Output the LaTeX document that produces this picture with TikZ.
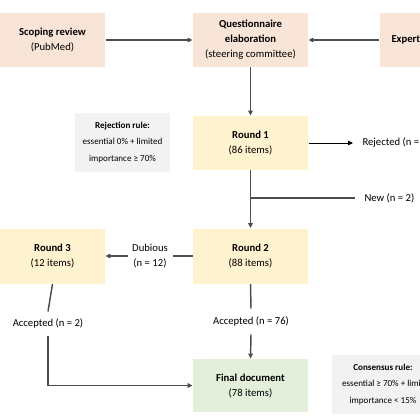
\documentclass[tikz,border=0pt]{standalone}
\usepackage{fontspec}
\setmainfont{Carlito}
\usetikzlibrary{arrows.meta}

\tikzset{every picture/.style={line width=0.75pt}}
\tikzset{
  stepbase/.style={rectangle, inner sep=0.75pt, align=center, font=\fontsize{8}{11.25}\selectfont, minimum width=86.25pt, minimum height=40.5pt},
  peachbox/.style={stepbase, fill={rgb, 255:red, 249; green, 229; blue, 216 }},
  roundbox/.style={stepbase, fill={rgb, 255:red, 255; green, 242; blue, 206 }},
  finalbox/.style={stepbase, fill={rgb, 255:red, 227; green, 239; blue, 219 }},
  rulebox/.style={rectangle, inner sep=0.75pt, align=center, font=\fontsize{6.8}{12.4}\selectfont, fill={rgb, 255:red, 242; green, 242; blue, 242 }, minimum width=71.25pt, minimum height=44.25pt},
  lbl/.style={inner sep=0pt, align=center, font=\fontsize{8}{11.25}\selectfont},
  flow/.style={draw={rgb, 255:red, 77; green, 77; blue, 77 }, line width=1.1pt},
  tip/.style={-{Triangle[length=3.6pt,width=3.4pt]}}
}

\begin{document}
\begin{tikzpicture}[x=0.75pt,y=0.75pt,yscale=-1,xscale=1]
\useasboundingbox (0,0) rectangle (420,420);
\clip (0,0) rectangle (420,420);

%Shape: Rectangle [id:scoping] 
\node [peachbox, minimum width=78.75pt] (scoping) at (52.5,40) {\textbf{Scoping review}\\(PubMed)};
%Shape: Rectangle [id:quest] 
\node [peachbox] (quest) at (250.5,40) {\textbf{Questionnaire}\\\textbf{elaboration}\\(steering committee)};
%Shape: Rectangle [id:expert] 
\node [peachbox, anchor=west, text width=70pt, align=left, inner xsep=9pt] (expert) at (379,40) {\textbf{Expert}};
%Shape: Rectangle [id:round1] 
\node [roundbox] (round1) at (250.5,143) {\textbf{Round 1}\\(86 items)};
%Shape: Rectangle [id:round2] 
\node [roundbox, minimum height=41.25pt] (round2) at (250.5,256) {\textbf{Round 2}\\(88 items)};
%Shape: Rectangle [id:round3] 
\node [roundbox, minimum width=78.75pt, minimum height=41.25pt] (round3) at (52.5,256) {\textbf{Round 3}\\(12 items)};
%Shape: Rectangle [id:final] 
\node [finalbox, minimum height=39.75pt] (final) at (250.5,385.5) {\textbf{Final document}\\(78 items)};
%Shape: Rectangle [id:rejection] 
\node [rulebox] (rejection) at (122.5,142.5) {\textbf{Rejection rule:}\\essential 0\% + limited\\importance ≥ 70\%};
%Shape: Rectangle [id:consensus] 
\node [rulebox, minimum width=76.5pt] (consensus) at (383,384.5) {\textbf{Consensus rule:}\\essential ≥ 70\% + limit\\importance < 15\%};

% Text Node
\node [lbl, anchor=west, inner xsep=6.75pt] (rej) at (353,143) {Rejected (n =};
% Text Node
\node [lbl, anchor=west, inner xsep=6.75pt] (new) at (355,198) {New (n = 2)};
% Text Node
\node [lbl, minimum width=33pt] (dub) at (150,256) {Dubious\\(n = 12)};
% Text Node
\node [lbl, minimum height=17.25pt] (acc3) at (48,323.5) {Accepted (n = 2)};
% Text Node
\node [lbl, minimum height=18.75pt] (acc2) at (251,321.5) {Accepted (n = 76)};

%Straight Lines 
\draw [flow, tip] (scoping.east) -- (quest.west);
\draw [flow, tip] (expert.west) -- (quest.east);
\draw [flow, tip] (quest.south) -- (round1.north);
\draw [line width=0.6pt, tip] (round1.east) -- (rej.west);
\draw [flow, tip] (round1.south) -- (round2.north);
\draw [flow] (new.west) -- (new.west -| round1.south);
\draw [flow] (round2.west) -- (dub.east);
\draw [flow, tip] (dub.west) -- (round3.east);
\draw [flow] (round3.south) -- (acc3.north);
\draw [flow, tip] (acc3.south) |- (final.west);
\draw [flow] (round2.south) -- (acc2.north);
\draw [flow, tip] (acc2.south) -- (final.north);

\end{tikzpicture}
\end{document}
